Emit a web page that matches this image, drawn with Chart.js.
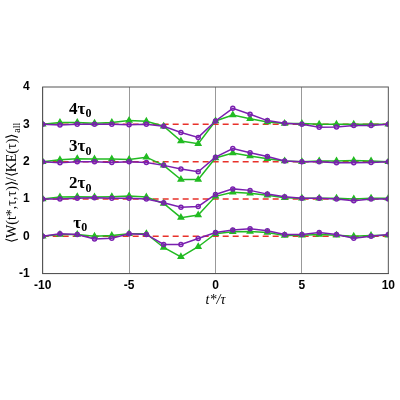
<!DOCTYPE html><html><head><script src="https://cdn.jsdelivr.net/npm/chart.js"></script>
<style>body{margin:0;background:#fff}#w{width:400px;height:400px}</style></head><body><div id="w"><canvas id="c"></canvas></div>
<script>
const xs=[-10,-9,-8,-7,-6,-5,-4,-3,-2,-1,0,1,2,3,4,5,6,7,8,9,10];
const offsets=[0,1,2,3];
const groupLabels=['τ','2τ','3τ','4τ'];
const purple1=[0,0.07,0.05,-0.07,-0.05,0.07,0.05,-0.22,-0.22,-0.06,0.1,0.17,0.2,0.15,0.05,0.05,0.1,0.05,-0.05,0,0.05];
const green1=[0,0.05,0.05,0,0.02,0.07,0.07,-0.3,-0.55,-0.28,0.07,0.12,0.13,0.1,0.02,0.03,0.05,0.03,0,0.02,0.03];
const purple2=[0,0,0.02,0.03,0.02,0.02,0,-0.1,-0.22,-0.2,0.12,0.27,0.23,0.13,0.06,0.02,0.02,0,-0.05,0,0];
const green2=[0,0.05,0.06,0.05,0.06,0.08,0.05,-0.12,-0.5,-0.43,0.07,0.18,0.15,0.1,0.03,0.02,0.02,0.02,0,0.02,0.02];
const purple3=[0,-0.03,0,0,-0.02,0,-0.02,-0.1,-0.2,-0.27,0.12,0.35,0.24,0.14,0.02,0,0,-0.03,-0.03,-0.02,0];
const green3=[0,0.05,0.08,0.07,0.07,0.06,0.12,-0.1,-0.48,-0.48,0.1,0.23,0.15,0.08,0.02,0,0.02,0.02,0.03,0.02,0];
const purple4=[0,-0.02,0,0,0,-0.01,0,-0.05,-0.22,-0.35,0.09,0.43,0.27,0.1,0.03,0,-0.08,-0.07,-0.03,-0.03,0];
const green4=[0,0.05,0.05,0.03,0.05,0.1,0.08,-0.05,-0.45,-0.52,0.09,0.25,0.15,0.06,0.02,0.02,0,0,0,0,0];
const purples=[purple1,purple2,purple3,purple4], greens=[green1,green2,green3,green4];
const ds=[];
offsets.forEach((o,i)=>{
  ds.push({data:[{x:-10,y:o},{x:10,y:o}],borderColor:'#e8312a',borderDash:[6,4],borderWidth:1.5,pointRadius:0,order:3});
  ds.push({data:greens[i].map((v,j)=>({x:xs[j],y:v+o})),borderColor:'#22bb22',backgroundColor:'#22bb22',pointStyle:'triangle',pointRadius:3,borderWidth:1.5,order:2});
  ds.push({data:purples[i].map((v,j)=>({x:xs[j],y:v+o})),borderColor:'#7a1fb0',backgroundColor:'rgba(0,0,0,0)',pointStyle:'circle',pointRadius:2,borderWidth:1.5,order:1});
});
const labelPos=[[-8,0.35],[-8,1.4],[-8,2.4],[-8,3.4]];
const plug={id:'lbl',afterDatasetsDraw(ch){const c=ch.ctx,sx=ch.scales.x,sy=ch.scales.y,a=ch.chartArea;c.save();c.fillStyle='#000';
 c.strokeStyle='#555';c.lineWidth=1;c.strokeRect(a.left,a.top,a.right-a.left,a.bottom-a.top);
 groupLabels.forEach((t,i)=>{const px=sx.getPixelForValue(labelPos[i][0]),py=sy.getPixelForValue(labelPos[i][1]);
  c.font='bold 17px "Liberation Serif"';c.textBaseline='middle';c.textAlign='center';const w=c.measureText(t).width;
  c.fillText(t,px,py);c.font='bold 12px "Liberation Serif"';c.textAlign='left';c.fillText('0',px+w/2,py+5);});
 c.font='italic 14px "Liberation Serif"';c.textAlign='center';c.textBaseline='top';
 c.fillText('t*/τ',(a.left+a.right)/2,a.bottom+20);
 c.translate(12,(a.top+a.bottom)/2);c.rotate(-Math.PI/2);c.textBaseline='middle';c.font='14px "Liberation Serif"';
 const s='⟨W(t*,τ,τ)⟩/⟨KE(τ)⟩';const ww=c.measureText(s).width;c.textAlign='center';
 c.fillText(s,-8,0);c.font='10px "Liberation Serif"';c.textAlign='left';c.fillText('all',-8+ww/2+1,5);
 c.restore();}};
new Chart(document.getElementById('c'),{type:'line',data:{datasets:ds},plugins:[plug],
options:{responsive:true,maintainAspectRatio:false,animation:false,layout:{padding:{left:14,right:8,top:87,bottom:102}},
plugins:{legend:{display:false},tooltip:{enabled:false}},
scales:{x:{type:'linear',min:-10,max:10,border:{color:'#555'},grid:{drawTicks:false,color:c=>(c.tick.value%5===0&&Math.abs(c.tick.value)!==10)?'#999':'rgba(0,0,0,0)'},
 ticks:{stepSize:5,padding:5,color:'#000',font:{family:'Liberation Sans',weight:'bold',size:12}}},
 y:{min:-1,max:4,border:{color:'#555'},grid:{display:false},ticks:{stepSize:1,padding:5,color:'#000',font:{family:'Liberation Sans',weight:'bold',size:12}}}}}});
</script></body></html>
